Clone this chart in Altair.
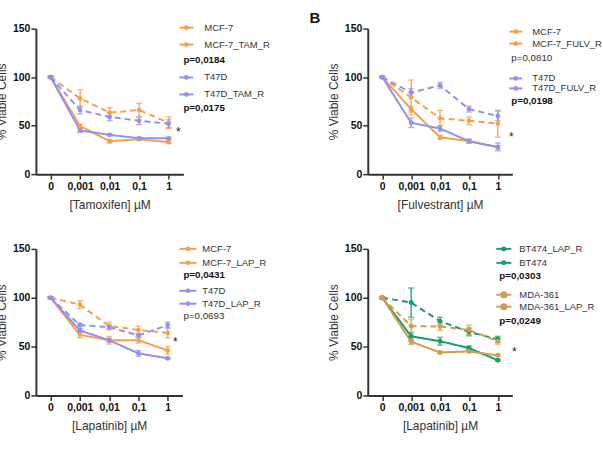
import altair as alt
import pandas as pd

FONT = "Liberation Sans"

doses = ["0", "0,001", "0,01", "0,1", "1"]

orange = "#F5A04C"
purple = "#9191F0"
green = "#1A9C6C"
tan = "#D29C52"

# Panel 1: Tamoxifen
tam_series = ["MCF-7", "MCF-7_TAM_R", "T47D", "T47D_TAM_R"]
tam_mean = [[100, 49.5, 34, 36, 33], [100, 78, 63.5, 66, 53], [100, 45, 40.5, 37, 37], [100, 66, 59, 55, 52]]
tam_err = [[1, 2, 2, 1, 1.5], [1, 9, 5, 7, 6], [1, 2, 1, 1, 1], [1, 4, 4, 4, 4]]
tam_p = ["p=0,0184", "p=0,0175"]
tam_pbold = [True, True]

# Panel 2: Fulvestrant
fulv_series = ["MCF-7", "MCF-7_FULV_R", "T47D", "T47D_FULV_R"]
fulv_mean = [[100, 67, 38, 34, 27.5], [100, 79, 57.5, 55, 52], [100, 53, 47, 34, 28], [100, 84, 91.5, 67, 60]]
fulv_err = [[1, 3, 2, 2, 2], [1, 18, 8, 4, 14], [1, 5, 3, 2, 4], [1, 4, 3, 3, 5]]
fulv_p = ["p=0,0810", "p=0,0198"]
fulv_pbold = [False, True]

# Panel 3: Lapatinib (MCF-7 / T47D)
lap_series = ["MCF-7", "MCF-7_LAP_R", "T47D", "T47D_LAP_R"]
lap_mean = [[100, 62, 56.5, 56.5, 46], [100, 93, 71, 67, 64], [100, 66.5, 56.5, 43, 38], [100, 72, 70, 61.5, 72]]
lap_err = [[1, 3, 4, 3, 4], [1, 4, 4, 4, 5], [1, 2, 2, 3, 1], [1, 2, 2, 2, 3]]
lap_p = ["p=0,0431", "p=0,0693"]
lap_pbold = [True, False]

# Panel 4: Lapatinib (BT474 / MDA-361)
lap2_series = ["BT474_LAP_R", "BT474", "MDA-361", "MDA-361_LAP_R"]
lap2_mean = [[100, 95, 76, 65, 57.5], [100, 60.5, 55.5, 48.5, 36], [100, 55, 44, 45, 41], [100, 71, 70.5, 67, 55.5]]
lap2_err = [[1, 15, 4, 4, 3], [1, 4, 4, 2, 1], [1, 3, 1, 1, 1], [1, 7, 4, 5, 3]]
lap2_p = ["p=0,0303", "p=0,0249"]
lap2_pbold = [True, True]

SOLID = [1, 0]
DASH = [6, 4]


def build_df(series, means, errs):
    rows = []
    for s, m, e in zip(series, means, errs):
        for d, v, er in zip(doses, m, e):
            rows.append({"series": s, "dose": d, "v": v, "lo": v - er, "hi": v + er})
    return pd.DataFrame(rows)


def panel(series, means, errs, colors, dashes, sizes, xtitle, w, h,
          lx, tx, rows, ptexts, pbold, px, prows, star, extra=None):
    df = build_df(series, means, errs)
    xs = alt.Scale(type="point", domain=doses, padding=0.5)
    xax = alt.Axis(title=xtitle, labelAngle=0, labelOverlap=False, titlePadding=8)
    ys = alt.Scale(domain=[0, 150])
    yax = alt.Axis(values=[0, 50, 100, 150], title="% Viable Cells", titleX=-27, labelPadding=1)

    def X():
        return alt.X("dose:N", sort=doses, scale=xs, axis=xax)

    def Y(f):
        return alt.Y(f + ":Q", scale=ys, axis=yax)

    color = alt.Color("series:N", scale=alt.Scale(domain=series, range=colors), legend=None)
    dash = alt.StrokeDash("series:N", scale=alt.Scale(domain=series, range=dashes), legend=None)
    size = alt.Size("series:N", scale=alt.Scale(domain=series, range=sizes), legend=None)

    base = alt.Chart(df)
    layers = [
        base.mark_rule(strokeWidth=1.3).encode(x=X(), y=Y("lo"), y2="hi:Q", color=color),
        base.mark_tick(size=6, thickness=1.3).encode(x=X(), y=Y("hi"), color=color),
        base.mark_tick(size=6, thickness=1.3).encode(x=X(), y=Y("lo"), color=color),
        base.mark_line(strokeWidth=2).encode(x=X(), y=Y("v"), color=color, strokeDash=dash, detail="series:N"),
        base.mark_point(filled=True, opacity=1).encode(x=X(), y=Y("v"), color=color, size=size),
    ]

    one = pd.DataFrame({"k": [0]})
    for s, c, sz, yy in zip(series, colors, sizes, rows):
        layers.append(alt.Chart(one).mark_rule(color=c, strokeWidth=2).encode(
            x=alt.value(lx[0]), x2=alt.value(lx[1]), y=alt.value(yy)))
        layers.append(alt.Chart(one).mark_point(filled=True, color=c, opacity=1, size=sz).encode(
            x=alt.value((lx[0] + lx[1]) / 2), y=alt.value(yy)))
        layers.append(alt.Chart(one).mark_text(text=s, align="left", baseline="middle", fontSize=9.5,
                                               color="#333", font=FONT).encode(
            x=alt.value(tx), y=alt.value(yy)))
    for t, b, yy in zip(ptexts, pbold, prows):
        layers.append(alt.Chart(one).mark_text(text=t, align="left", baseline="middle", fontSize=9.8,
                                               fontWeight="bold" if b else "normal",
                                               color="#111" if b else "#333", font=FONT).encode(
            x=alt.value(px), y=alt.value(yy)))
    layers.append(alt.Chart(one).mark_text(text="*", align="center", baseline="middle", fontSize=12,
                                           color="#222", font=FONT).encode(
        x=alt.value(star[0]), y=alt.value(star[1])))
    if extra is not None:
        layers.append(extra)
    return alt.layer(*layers).properties(width=w, height=h)


one = pd.DataFrame({"k": [0]})
b_label = alt.Chart(one).mark_text(text="B", align="center", baseline="middle", fontSize=15,
                                   fontWeight="bold", color="#111", font=FONT).encode(
    x=alt.value(-53), y=alt.value(-11))

p1 = panel(tam_series, tam_mean, tam_err, [orange, orange, purple, purple], [SOLID, DASH, SOLID, DASH],
           [22, 22, 22, 22], "[Tamoxifen] \u00b5M", 148, 146,
           (144, 158), 169, [-1, 16, 49, 66], tam_p, tam_pbold, 148, [31, 80], (143, 104))
p2 = panel(fulv_series, fulv_mean, fulv_err, [orange, orange, purple, purple], [SOLID, DASH, SOLID, DASH],
           [22, 22, 22, 22], "[Fulvestrant] \u00b5M", 145, 146,
           (142, 155), 165, [3, 15, 50, 60], fulv_p, fulv_pbold, 144, [29, 73], (144, 109), extra=b_label)
p3 = panel(lap_series, lap_mean, lap_err, [orange, orange, purple, purple], [SOLID, DASH, SOLID, DASH],
           [22, 22, 22, 22], "[Lapatinib] \u00b5M", 147, 147,
           (144, 161), 167, [0, 14, 42, 55], lap_p, lap_pbold, 148, [26, 67], (140, 93))
p4 = panel(lap2_series, lap2_mean, lap2_err, [green, green, tan, tan], [DASH, SOLID, SOLID, DASH],
           [25, 25, 50, 50], "[Lapatinib] \u00b5M", 145, 147,
           (129, 144), 152, [0, 14, 46, 58], lap2_p, lap2_pbold, 132, [27, 72], (147, 103))

chart = alt.concat(p1, p2, p3, p4, columns=2, spacing={"row": 75, "column": 185}, bounds="flush").resolve_scale(
    color="independent", strokeDash="independent", size="independent"
).properties(
    padding={"left": -5, "top": 10, "right": 0, "bottom": 0}
).configure_view(stroke=None).configure_axis(
    labelFont=FONT, labelFontSize=10.5, labelFontWeight="bold", labelColor="#111",
    titleFont=FONT, titleFontSize=12, titleFontWeight="normal", titleColor="#333",
    domainColor="#333", domainWidth=2, tickColor="#333", tickWidth=1.5, tickSize=5, grid=False,
    labelPadding=2
)

chart.save("out.html", embed_options={"renderer": "svg", "actions": False})
